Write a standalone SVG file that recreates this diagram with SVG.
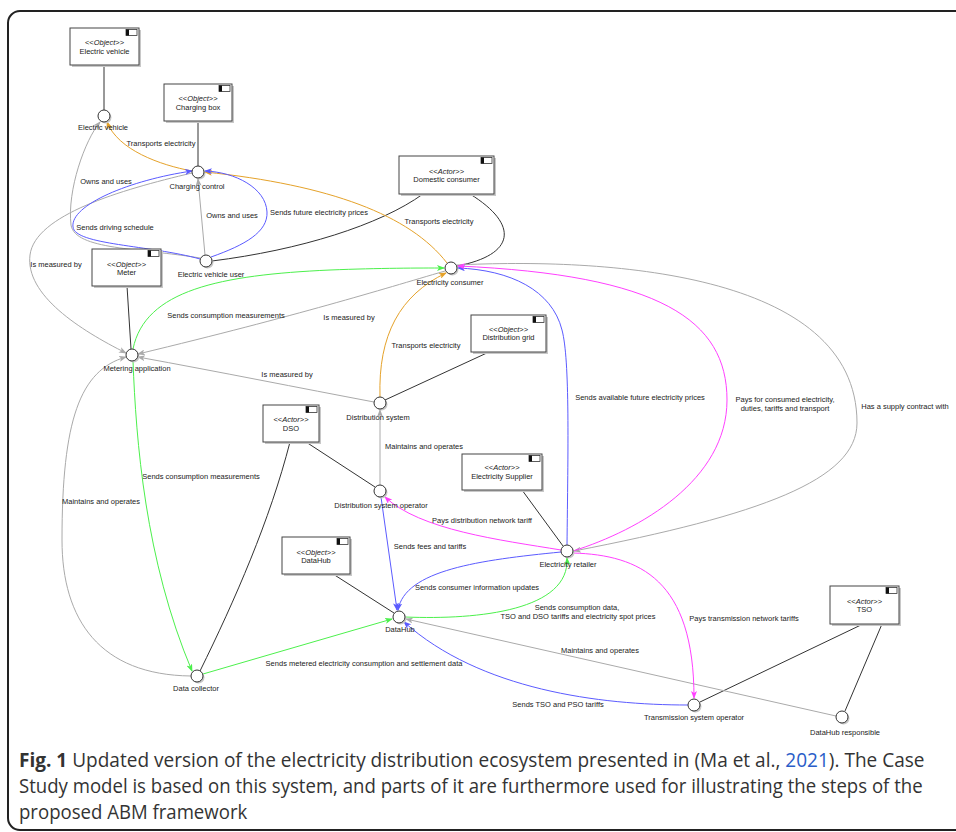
<svg xmlns="http://www.w3.org/2000/svg" width="956" height="832" viewBox="0 0 956 832">
<style>
text{font-family:"Liberation Sans",Arial,sans-serif;font-size:7.5px;fill:#222;text-anchor:middle}
.box{fill:#fff;stroke:#444;stroke-width:1}
.sh{fill:#c8c8c8}
.ic{fill:#fff;stroke:#333;stroke-width:0.8}
.icb{fill:#111}
.circ{fill:#fff;stroke:#333;stroke-width:1}
.k{fill:none;stroke:#333;stroke-width:1}
.g{fill:none;stroke:#aaaaaa;stroke-width:1;marker-end:url(#mg)}
.o{fill:none;stroke:#e5a22a;stroke-width:1;marker-end:url(#mo)}
.b{fill:none;stroke:#5b5bff;stroke-width:1;marker-end:url(#mb)}
.gr{fill:none;stroke:#4cf04c;stroke-width:1;marker-end:url(#mgr)}
.m{fill:none;stroke:#ff40ff;stroke-width:1;marker-end:url(#mm)}
.cap{font-family:"Open Sans","Liberation Sans",sans-serif;font-size:20px;fill:#333;text-anchor:start}
</style>
<defs>
<marker id="mg" markerUnits="userSpaceOnUse" markerWidth="8" markerHeight="6" refX="7" refY="3" orient="auto"><path d="M0,0 L8,3 L0,6 L2,3 Z" fill="#aaaaaa"/></marker>
<marker id="mo" markerUnits="userSpaceOnUse" markerWidth="8" markerHeight="6" refX="7" refY="3" orient="auto"><path d="M0,0 L8,3 L0,6 L2,3 Z" fill="#e5a22a"/></marker>
<marker id="mb" markerUnits="userSpaceOnUse" markerWidth="8" markerHeight="6" refX="7" refY="3" orient="auto"><path d="M0,0 L8,3 L0,6 L2,3 Z" fill="#5b5bff"/></marker>
<marker id="mgr" markerUnits="userSpaceOnUse" markerWidth="8" markerHeight="6" refX="7" refY="3" orient="auto"><path d="M0,0 L8,3 L0,6 L2,3 Z" fill="#4cf04c"/></marker>
<marker id="mm" markerUnits="userSpaceOnUse" markerWidth="8" markerHeight="6" refX="7" refY="3" orient="auto"><path d="M0,0 L8,3 L0,6 L2,3 Z" fill="#ff40ff"/></marker>
</defs>
<rect x="0" y="0" width="956" height="832" fill="#fff"/>
<rect x="8" y="11" width="1000" height="819" rx="12" fill="none" stroke="#222" stroke-width="2"/>

<g id="connectors">
<path class="k" d="M104,65 L104,110"/>
<path class="k" d="M198,121 L198,166"/>
<path class="k" d="M423,194 C380,225 300,250 212,261"/>
<path class="k" d="M470,194 C520,225 515,255 457,266"/>
<path class="k" d="M127,286 L131,349"/>
<path class="k" d="M489,352 L385,400"/>
<path class="k" d="M290,442 C270,520 235,600 200,671"/>
<path class="k" d="M306,442 L375,487"/>
<path class="k" d="M522,490 L563,546"/>
<path class="k" d="M333,574 L394,613"/>
<path class="k" d="M863,624 L700,702"/>
<path class="k" d="M882,624 L845,711"/>
<path class="g" d="M205,255 L198,179"/>
<path class="g" d="M200,258 C140,248 75,250 71,225 C67,190 85,140 100,122"/>
<path class="g" d="M192,173 C120,190 35,215 30,255 C25,295 80,330 126,353"/>
<path class="g" d="M445,271 C380,290 300,315 138,354"/>
<path class="g" d="M374,402 C300,388 220,372 138,357"/>
<path class="g" d="M191,676 C100,675 62,620 62,540 C62,420 80,370 126,357"/>
<path class="g" d="M380,485 L380,410"/>
<path class="g" d="M457,265 C600,258 857,270 857,423 C857,480 760,515 574,551"/>
<path class="g" d="M836,716 L406,619"/>
<path class="o" d="M192,171 C160,165 118,150 107,122"/>
<path class="o" d="M447,263 C410,215 330,185 205,172"/>
<path class="o" d="M380,397 C378,335 400,295 446,273"/>
<path class="b" d="M200,259 C150,245 75,245 73,227 C70,205 130,180 192,171"/>
<path class="b" d="M211,257 C245,245 268,232 267,212 C266,188 235,172 205,171"/>
<path class="b" d="M381,497 L397,610"/>
<path class="b" d="M561,552 C480,560 405,570 398,610"/>
<path class="b" d="M567,545 C568,450 570,360 562,330 C552,290 510,270 458,268"/>
<path class="b" d="M688,705 C600,705 480,690 404,622"/>
<path class="gr" d="M133,349 C145,290 220,275 330,270 C380,268 420,268 444,268"/>
<path class="gr" d="M133,361 C136,440 145,560 192,671"/>
<path class="gr" d="M203,674 L392,619"/>
<path class="gr" d="M405,617 C480,620 570,610 567,558"/>
<path class="m" d="M561,550 C500,540 420,530 385,497"/>
<path class="m" d="M573,551 C640,530 727,480 727,400 C727,320 660,275 458,266"/>
<path class="m" d="M573,553 C640,555 694,580 694,698"/>
<text x="161" y="146">Transports electricity</text>
<text x="439" y="224">Transports electricity</text>
<text x="426" y="348">Transports electricity</text>
<text x="115" y="230">Sends driving schedule</text>
<text x="319" y="215">Sends future electricity prices</text>
<text x="232" y="218">Owns and uses</text>
<text x="106" y="184">Owns and uses</text>
<text x="56" y="267">Is measured by</text>
<text x="349" y="320">Is measured by</text>
<text x="287" y="377">Is measured by</text>
<text x="226" y="318">Sends consumption measurements</text>
<text x="201" y="479">Sends consumption measurements</text>
<text x="101" y="504">Maintains and operates</text>
<text x="424" y="449">Maintains and operates</text>
<text x="640" y="400">Sends available future electricity prices</text>
<text x="785" y="402">Pays for consumed electricity,</text>
<text x="785" y="411">duties, tariffs and transport</text>
<text x="905" y="409">Has a supply contract with</text>
<text x="482" y="523">Pays distribution network tariff</text>
<text x="430" y="549">Sends fees and tariffs</text>
<text x="477" y="590">Sends consumer information updates</text>
<text x="577" y="610">Sends consumption data,</text>
<text x="578" y="619">TSO and DSO tariffs and electricity spot prices</text>
<text x="744" y="621">Pays transmission network tariffs</text>
<text x="600" y="653">Maintains and operates</text>
<text x="364" y="666">Sends metered electricity consumption and settlement data</text>
<text x="558" y="707">Sends TSO and PSO tariffs</text>
</g>

<g id="box-electric-vehicle">
<rect class="sh" x="72" y="30" width="69" height="37"/><rect class="box" x="70" y="28" width="69" height="37"/>
<rect class="ic" x="126" y="29.5" width="11" height="6"/><rect class="icb" x="126" y="29.5" width="3" height="6"/>
<text x="104.5" y="45">&lt;&lt;<tspan font-style="italic">Object</tspan>&gt;&gt;</text><text x="104.5" y="54">Electric vehicle</text>
</g>
<g id="box-charging-box">
<rect class="sh" x="166" y="86" width="68" height="37"/><rect class="box" x="164" y="84" width="68" height="37"/>
<rect class="ic" x="219" y="85.5" width="11" height="6"/><rect class="icb" x="219" y="85.5" width="3" height="6"/>
<text x="198" y="101">&lt;&lt;<tspan font-style="italic">Object</tspan>&gt;&gt;</text><text x="198" y="110">Charging box</text>
</g>
<g id="box-domestic-consumer">
<rect class="sh" x="401" y="158" width="95" height="38"/><rect class="box" x="399" y="156" width="95" height="38"/>
<rect class="ic" x="481" y="157.5" width="11" height="6"/><rect class="icb" x="481" y="157.5" width="3" height="6"/>
<text x="446.5" y="174">&lt;&lt;<tspan font-style="italic">Actor</tspan>&gt;&gt;</text><text x="446.5" y="182">Domestic consumer</text>
</g>
<g id="box-meter">
<rect class="sh" x="94" y="251" width="69" height="37"/><rect class="box" x="92" y="249" width="69" height="37"/>
<rect class="ic" x="148" y="250.5" width="11" height="6"/><rect class="icb" x="148" y="250.5" width="3" height="6"/>
<text x="126.5" y="267">&lt;&lt;<tspan font-style="italic">Object</tspan>&gt;&gt;</text><text x="126.5" y="275">Meter</text>
</g>
<g id="box-distribution-grid">
<rect class="sh" x="473" y="317" width="75" height="37"/><rect class="box" x="471" y="315" width="75" height="37"/>
<rect class="ic" x="533" y="316.5" width="11" height="6"/><rect class="icb" x="533" y="316.5" width="3" height="6"/>
<text x="508.5" y="332">&lt;&lt;<tspan font-style="italic">Object</tspan>&gt;&gt;</text><text x="508.5" y="340">Distribution grid</text>
</g>
<g id="box-dso">
<rect class="sh" x="265" y="407" width="56" height="37"/><rect class="box" x="263" y="405" width="56" height="37"/>
<rect class="ic" x="306" y="406.5" width="11" height="6"/><rect class="icb" x="306" y="406.5" width="3" height="6"/>
<text x="291" y="422">&lt;&lt;<tspan font-style="italic">Actor</tspan>&gt;&gt;</text><text x="291" y="431">DSO</text>
</g>
<g id="box-electricity-supplier">
<rect class="sh" x="464" y="456" width="80" height="36"/><rect class="box" x="462" y="454" width="80" height="36"/>
<rect class="ic" x="529" y="455.5" width="11" height="6"/><rect class="icb" x="529" y="455.5" width="3" height="6"/>
<text x="502" y="470">&lt;&lt;<tspan font-style="italic">Actor</tspan>&gt;&gt;</text><text x="502" y="479">Electricity Supplier</text>
</g>
<g id="box-datahub">
<rect class="sh" x="284" y="539" width="68" height="37"/><rect class="box" x="282" y="537" width="68" height="37"/>
<rect class="ic" x="337" y="538.5" width="11" height="6"/><rect class="icb" x="337" y="538.5" width="3" height="6"/>
<text x="316" y="555">&lt;&lt;<tspan font-style="italic">Object</tspan>&gt;&gt;</text><text x="316" y="563">DataHub</text>
</g>
<g id="box-tso">
<rect class="sh" x="832" y="588" width="69" height="38"/><rect class="box" x="830" y="586" width="69" height="38"/>
<rect class="ic" x="886" y="587.5" width="11" height="6"/><rect class="icb" x="886" y="587.5" width="3" height="6"/>
<text x="864.5" y="604">&lt;&lt;<tspan font-style="italic">Actor</tspan>&gt;&gt;</text><text x="864.5" y="612">TSO</text>
</g>

<g id="node-electric-vehicle"><circle class="sh" cx="105.5" cy="117.5" r="6"/><circle class="circ" cx="104" cy="116" r="6"/><text x="103" y="130">Electric vehicle</text></g>
<g id="node-charging-control"><circle class="sh" cx="199.5" cy="173.5" r="6"/><circle class="circ" cx="198" cy="172" r="6"/><text x="197" y="189">Charging control</text></g>
<g id="node-ev-user"><circle class="sh" cx="207.5" cy="262.5" r="6"/><circle class="circ" cx="206" cy="261" r="6"/><text x="211" y="277">Electric vehicle user</text></g>
<g id="node-metering-application"><circle class="sh" cx="133.5" cy="356.5" r="6"/><circle class="circ" cx="132" cy="355" r="6"/><text x="137" y="371">Metering application</text></g>
<g id="node-electricity-consumer"><circle class="sh" cx="452.5" cy="269.5" r="6"/><circle class="circ" cx="451" cy="268" r="6"/><text x="450" y="285">Electricity consumer</text></g>
<g id="node-distribution-system"><circle class="sh" cx="381.5" cy="404.5" r="6"/><circle class="circ" cx="380" cy="403" r="6"/><text x="378" y="420">Distribution system</text></g>
<g id="node-dso-operator"><circle class="sh" cx="381.5" cy="492.5" r="6"/><circle class="circ" cx="380" cy="491" r="6"/><text x="381" y="508">Distribution system operator</text></g>
<g id="node-electricity-retailer"><circle class="sh" cx="568.5" cy="552.5" r="6"/><circle class="circ" cx="567" cy="551" r="6"/><text x="568" y="567">Electricity retailer</text></g>
<g id="node-datahub"><circle class="sh" cx="400.5" cy="618.5" r="6"/><circle class="circ" cx="399" cy="617" r="6"/><text x="400" y="632">DataHub</text></g>
<g id="node-data-collector"><circle class="sh" cx="198.5" cy="677.5" r="6"/><circle class="circ" cx="197" cy="676" r="6"/><text x="196" y="691">Data collector</text></g>
<g id="node-tso-operator"><circle class="sh" cx="695.5" cy="706.5" r="6"/><circle class="circ" cx="694" cy="705" r="6"/><text x="694" y="720">Transmission system operator</text></g>
<g id="node-datahub-responsible"><circle class="sh" cx="843.5" cy="718.5" r="6"/><circle class="circ" cx="842" cy="717" r="6"/><text x="845" y="735">DataHub responsible</text></g>

<g id="caption">
<g transform="translate(19,767) scale(0.952,1)"><text class="cap" x="0" y="0"><tspan font-weight="bold">Fig. 1</tspan> Updated version of the electricity distribution ecosystem presented in (Ma et al., <tspan fill="#2a5dc8">2021</tspan>). The Case</text></g>
<g transform="translate(19,793) scale(0.93,1)"><text class="cap" x="0" y="0">Study model is based on this system, and parts of it are furthermore used for illustrating the steps of the</text></g>
<g transform="translate(19,819) scale(0.93,1)"><text class="cap" x="0" y="0">proposed ABM framework</text></g>
</g>
</svg>
